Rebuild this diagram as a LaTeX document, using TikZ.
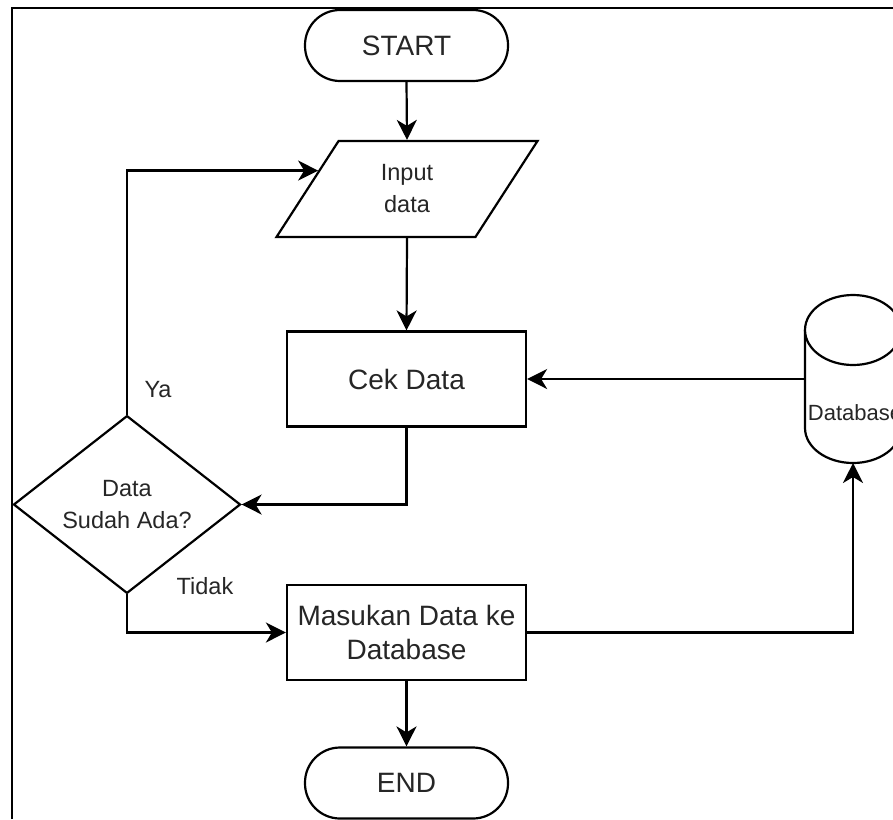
\documentclass[tikz,border=0pt]{standalone}
\usepackage{fontspec}
\setmainfont{Liberation Sans}
\usetikzlibrary{shapes.geometric,arrows.meta,calc}
\definecolor{ink}{HTML}{262626}
\tikzset{
  flow/.style={draw=black, line width=2.2pt, fill=white, text=ink, align=center, inner sep=0pt},
  big/.style={font=\fontsize{28}{34}\selectfont},
  small/.style={font=\fontsize{23.5}{32}\selectfont},
  terminal/.style={flow, big, rectangle, rounded corners=35pt, minimum width=203pt, minimum height=71pt},
  process/.style={flow, big, rectangle, minimum width=239pt, minimum height=95pt},
  io/.style={flow, small, trapezium, trapezium left angle=63.9, trapezium right angle=116.1,
    trapezium stretches=true, minimum width=262pt, minimum height=96pt},
  decision/.style={flow, small, diamond, minimum width=227pt, minimum height=159pt},
  link/.style={line width=2.2pt, -{Stealth[length=20pt,width=20pt,inset=6pt]}},
  edgelabel/.style={small, text=ink},
}
\begin{document}
\begin{tikzpicture}[x=1pt,y=-1pt]
\useasboundingbox (0,0) rectangle (893,819);
\clip (0,0) rectangle (893,819);

% flowchart steps
\node[terminal] (start) at (406.5,45.5) {START};
\node[io] (inp) at (407,189) {Input\\data};
\node[process] (cek) at (406.5,379) {Cek Data};
\node[decision] (dec) at (127,504.5) {Data\\Sudah Ada?};
\node[process] (mas) at (406.5,632.5) {Masukan Data ke\\Database};
\node[terminal] (end) at (406.5,783) {END};

% database cylinder
\node[minimum width=96pt, minimum height=168pt, inner sep=0pt, outer sep=0pt] (db) at (853,379) {};
\draw[line width=2.2pt, fill=white] (805,330) -- (805,428)
  arc[start angle=180, end angle=360, x radius=48pt, y radius=35pt] -- (901,330);
\draw[line width=2.2pt, fill=white] (853,330) ellipse[x radius=48pt, y radius=35pt];
\node[font=\fontsize{22}{26}\selectfont, text=ink] (dbtext) at (855,413) {Database};

% entry point of the loop back into the input step
\coordinate (inpL) at ($(inp.bottom left corner)!0.6875!(inp.top left corner)$);

% connectors
\draw[link] (start.south) -- (inp.north);
\draw[link] (inp.south) -- (cek.north);
\draw[link] (db.west) -- (cek.east);
\draw[link] (cek.south) |- (dec.east);
\draw[link] (dec.north) |- (inpL);
\draw[link] (dec.south) |- (mas.west);
\draw[link] (mas.east) -| (db.south);
\draw[link] (mas.south) -- (end.north);

% branch labels
\node[edgelabel] (ya) at (158,390) {Ya};
\node[edgelabel] (tidak) at (205,586) {Tidak};

% page frame edges
\draw[line width=2pt] (12,819) -- (12,8) -- (893,8);
\end{tikzpicture}
\end{document}
